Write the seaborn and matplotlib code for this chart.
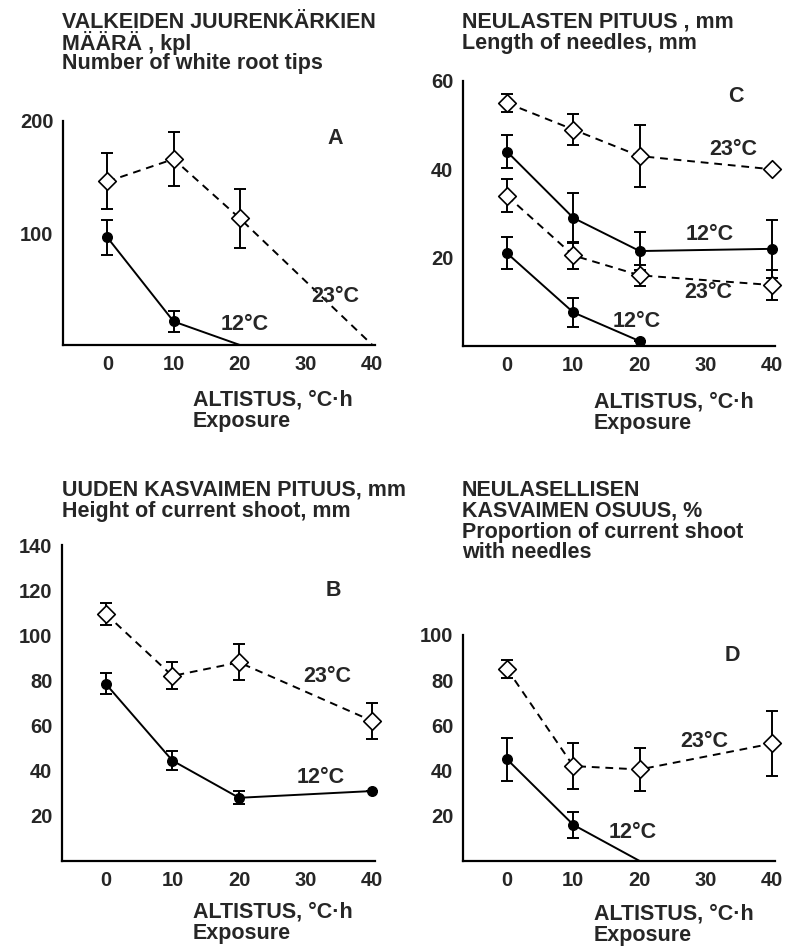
import matplotlib
matplotlib.use("Agg")
import matplotlib.pyplot as plt
import seaborn as sns
import numpy as np
import pandas as pd

sns.set_style("white")
plt.rcParams['font.family'] = ['Liberation Sans', 'DejaVu Sans']
plt.rcParams['font.weight'] = 'bold'

exposure = [0, 10, 20, 40]

# A: white root tips, kpl
a_warm = [146, 166, 113, 0]
a_warm_err = [25, 24, 26, np.nan]
a_warm_mark = [1, 1, 1, 0]
a_cold = [96, 21, 0]
a_cold_err = [16, 9, np.nan]
a_cold_mark = [1, 1, 0]

# C: needle length, mm (two pairs of series)
c_warm_hi = [55, 49, 43, 40]
c_warm_hi_err = [2, 3.5, 7, np.nan]
c_cold_hi = [44, 29, 21.5, 22]
c_cold_hi_err = [3.8, 5.7, 4.4, 6.5]
c_warm_lo = [34, 20.5, 16, 13.8]
c_warm_lo_err = [3.7, 3, 2.4, 3.4]
c_cold_lo = [21, 7.6, 1.1]
c_cold_lo_err = [3.6, 3.2, np.nan]

# B: height of current shoot, mm
b_warm = [109.5, 82, 88, 62]
b_warm_err = [5, 6, 8, 8]
b_cold = [78.5, 44.5, 28, 31]
b_cold_err = [4.6, 4.3, 2.8, np.nan]

# D: proportion of shoot with needles, %
d_warm = [85, 42, 40.5, 52]
d_warm_err = [4, 10, 9.7, 14.5]
d_cold = [45, 16, 0]
d_cold_err = [9.5, 5.7, np.nan]
d_cold_mark = [1, 1, 0]

W, H = 786, 946
fig = plt.figure(figsize=(W / 100, H / 100), dpi=100)


def make_ax(left, right, bottom, top, xlim, ylim, yticks):
    ax = fig.add_axes([left / W, 1 - bottom / H, (right - left) / W, (bottom - top) / H])
    ax.set_xlim(*xlim)
    ax.set_ylim(*ylim)
    ax.set_xticks([0, 10, 20, 30, 40])
    ax.set_yticks(yticks)
    ax.set_yticklabels([str(t) for t in yticks])
    for s in ['top', 'right']:
        ax.spines[s].set_visible(False)
    for s in ['left', 'bottom']:
        ax.spines[s].set_linewidth(1.6)
        ax.spines[s].set_color('black')
    ax.tick_params(direction='in', length=6, width=1.6, labelsize=14.5, pad=7)
    ax.set_xlabel('')
    ax.set_ylabel('')
    return ax


def series(ax, y, err, filled, mark=None):
    x = exposure[:len(y)]
    df = pd.DataFrame({'x': x, 'y': y})
    sns.lineplot(data=df, x='x', y='y', ax=ax, color='black', lw=1.4,
                 linestyle='-' if filled else (0, (4, 3)), zorder=2)
    if mark is None:
        mark = [1] * len(y)
    idx = [i for i, m in enumerate(mark) if m]
    xs = [x[i] for i in idx]
    ys = [y[i] for i in idx]
    es = [err[i] if not np.isnan(err[i]) else 0 for i in idx]
    eb = ax.errorbar(xs, ys, yerr=es, fmt='none', ecolor='black', elinewidth=1.4,
                     capsize=4, capthick=1.4, zorder=3)
    for art in eb.lines[1] + eb.lines[2]:
        art.set_clip_on(False)
    if filled:
        ax.scatter(xs, ys, s=48, marker='o', color='black', zorder=4, clip_on=False)
    else:
        ax.scatter(xs, ys, s=80, marker='D', facecolor='white', edgecolor='black',
                   linewidth=1.2, zorder=4, clip_on=False)
    ax.set_xlabel('')
    ax.set_ylabel('')


def tag(ax, x, y, s):
    ax.text(x, y, s, fontsize=15.5, ha='center', va='center')


# Panel A
axA = make_ax(63, 375, 345, 121, (-6.7, 40.4), (0, 200), [100, 200])
series(axA, a_warm, a_warm_err, False, a_warm_mark)
series(axA, a_cold, a_cold_err, True, a_cold_mark)
tag(axA, 34.4, 184, 'A')
tag(axA, 34.4, 43, '23°C')
tag(axA, 20.8, 18, '12°C')

# Panel C
axC = make_ax(463, 775, 346, 81, (-6.64, 40.4), (0, 60), [20, 40, 60])
series(axC, c_warm_hi, c_warm_hi_err, False)
series(axC, c_cold_hi, c_cold_hi_err, True)
series(axC, c_warm_lo, c_warm_lo_err, False)
series(axC, c_cold_lo, c_cold_lo_err, True)
tag(axC, 34.5, 56.6, 'C')
tag(axC, 34.1, 44.5, '23°C')
tag(axC, 30.6, 25.2, '12°C')
tag(axC, 30.3, 12, '23°C')
tag(axC, 19.6, 5.5, '12°C')

# Panel B
axB = make_ax(62, 375, 861, 545, (-6.56, 40.4), (0, 140), [20, 40, 60, 80, 100, 120, 140])
series(axB, b_warm, b_warm_err, False)
series(axB, b_cold, b_cold_err, True)
tag(axB, 34.1, 120, 'B')
tag(axB, 33.2, 81.8, '23°C')
tag(axB, 32.2, 37, '12°C')

# Panel D
axD = make_ax(463, 775, 861, 635, (-6.64, 40.4), (0, 100), [20, 40, 60, 80, 100])
series(axD, d_warm, d_warm_err, False)
series(axD, d_cold, d_cold_err, True, d_cold_mark)
tag(axD, 34, 91, 'D')
tag(axD, 29.8, 53, '23°C')
tag(axD, 18.9, 12.4, '12°C')


def ftext(px, py, s, size=15.5):
    fig.text(px / W, 1 - py / H, s, fontsize=size, ha='left', va='center')


ftext(62, 22, 'VALKEIDEN JUURENKÄRKIEN')
ftext(62, 43, 'MÄÄRÄ , kpl')
ftext(62, 64, 'Number of white root tips')
ftext(462, 22, 'NEULASTEN PITUUS , mm')
ftext(462, 43, 'Length of needles, mm')
ftext(62, 490, 'UUDEN KASVAIMEN PITUUS, mm')
ftext(62, 511, 'Height of current shoot, mm')
ftext(462, 490, 'NEULASELLISEN')
ftext(462, 511, 'KASVAIMEN OSUUS, %')
ftext(462, 532, 'Proportion of current shoot')
ftext(462, 553, 'with needles')

for px, py in [(193, 400), (594, 402), (193, 912), (594, 914)]:
    ftext(px, py, 'ALTISTUS, °C·h')
    ftext(px, py + 21, 'Exposure')

fig.savefig('out.png', dpi=100)
